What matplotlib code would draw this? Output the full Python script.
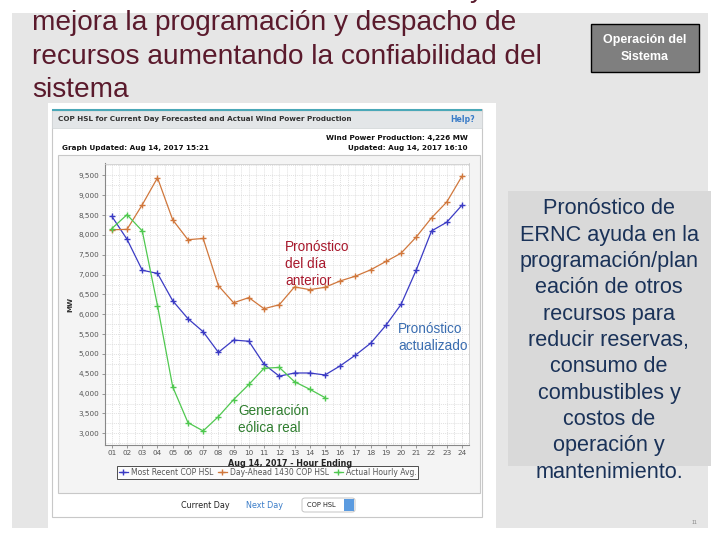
import matplotlib
matplotlib.use("Agg")
import matplotlib.pyplot as plt
from matplotlib.patches import Rectangle, FancyBboxPatch
from matplotlib.ticker import FuncFormatter, MultipleLocator
from matplotlib.lines import Line2D

# ---------------- data ----------------
hours = list(range(1, 25))
hour_labels = [f"{h:02d}" for h in hours]
most_recent = [8470, 7890, 7110, 7030, 6340, 5890, 5560, 5040, 5350, 5320, 4740, 4440,
               4520, 4520, 4470, 4700, 4970, 5270, 5720, 6250, 7120, 8100, 8320, 8750]
day_ahead = [8130, 8140, 8760, 9440, 8380, 7880, 7910, 6720, 6290, 6420, 6140, 6240,
             6690, 6620, 6680, 6840, 6960, 7120, 7330, 7540, 7950, 8430, 8830, 9480]
actual_hours = list(range(1, 16))
actual = [8160, 8510, 8100, 6220, 4170, 3270, 3060, 3420, 3850, 4230, 4640, 4660,
          4300, 4110, 3900]
ytick_vals = list(range(3000, 10000, 500))
series_names = ["Most Recent COP HSL", "Day-Ahead 1430 COP HSL", "Actual Hourly Avg."]

W, H = 720, 540
fig = plt.figure(figsize=(7.2, 5.4), dpi=100)
fig.patch.set_facecolor("white")

def fx(x):
    return x / W

def fy(y):
    return 1 - y / H

def rect(x0, y0, x1, y1, **kw):
    r = Rectangle((fx(x0), fy(y1)), fx(x1) - fx(x0), fy(y0) - fy(y1),
                  transform=fig.transFigure, **kw)
    fig.add_artist(r)
    return r

def txt(x, y, s, **kw):
    return fig.text(fx(x), fy(y), s, **kw)

SANS = ["Liberation Sans", "DejaVu Sans"]
UI = ["DejaVu Sans"]

# slide background
rect(12, 13, 708, 528, facecolor="#e6e6e6", edgecolor="none", zorder=0)
# screenshot area
rect(48, 103, 496, 540, facecolor="white", edgecolor="none", zorder=1)
rect(52, 109, 482, 517, facecolor="white", edgecolor="#c8c8c8", linewidth=0.8, zorder=1)
rect(52, 109, 482, 111, facecolor="#4aa8b8", edgecolor="none", zorder=2)
rect(52, 111, 482, 128, facecolor="#e3e6e8", edgecolor="#d0d4d6", linewidth=0.5, zorder=2)
rect(58, 155, 480, 493, facecolor="#f4f4f4", edgecolor="#c8c8c8", linewidth=0.8, zorder=1)

# title (dark maroon)
title_col = "#5a1a2c"
txt(470, -10, "y", fontsize=20.2, color=title_col, family=SANS, va="center", zorder=3)
for i, line in enumerate(["mejora la programación y despacho de",
                          "recursos aumentando la confiabilidad del",
                          "sistema"]):
    txt(32, 23 + i * 33.5, line, fontsize=20.2, color=title_col, family=SANS,
        va="center", ha="left", zorder=3)

# "Operación del Sistema" box
rect(591, 24, 699, 72, facecolor="#7f7f7f", edgecolor="black", linewidth=1.0, zorder=3)
txt(645, 39.5, "Operación del", fontsize=9, color="white", weight="bold",
    family=SANS, ha="center", va="center", zorder=4)
txt(645, 56.5, "Sistema", fontsize=9, color="white", weight="bold",
    family=SANS, ha="center", va="center", zorder=4)

# right text box
rect(508, 191, 711, 466, facecolor="#d9d9d9", edgecolor="none", zorder=2)
right_lines = ["Pronóstico de", "ERNC ayuda en la", "programación/plan",
               "eación de otros", "recursos para", "reducir reservas,",
               "consumo de", "combustibles y", "costos de", "operación y",
               "mantenimiento."]
for i, line in enumerate(right_lines):
    txt(609, 209 + i * 26.3, line, fontsize=15.6, color="#1a3258", family=SANS,
        ha="center", va="center", zorder=4)

txt(695, 522, "11", fontsize=4, color="#888888", family=SANS, ha="center", va="center")

# screenshot header texts
txt(58, 119.5, "COP HSL for Current Day Forecasted and Actual Wind Power Production",
    fontsize=5.2, weight="bold", color="#333333", family=UI, va="center", zorder=3)
txt(475, 119.5, "Help?", fontsize=5.6, weight="bold", color="#3a7cc8", family=UI,
    ha="right", va="center", zorder=3)
txt(62, 148, "Graph Updated: Aug 14, 2017 15:21", fontsize=5.2, weight="bold",
    color="#111111", family=UI, va="center", zorder=3)
txt(468, 138, "Wind Power Production: 4,226 MW", fontsize=5.2, weight="bold",
    color="#111111", family=UI, ha="right", va="center", zorder=3)
txt(468, 148, "Updated: Aug 14, 2017 16:10", fontsize=5.2, weight="bold",
    color="#111111", family=UI, ha="right", va="center", zorder=3)

# ---------------- chart ----------------
c_blue = "#3b3bc4"
c_orange = "#d0773c"
c_green = "#4fc84f"

ax = fig.add_axes([fx(104.5), fy(445), fx(469) - fx(104.5), fy(163.5) - fy(445)], zorder=5)
ax.set_facecolor("white")
ax.plot(hours, most_recent, color=c_blue, lw=0.9, marker="+", ms=4.5, mew=1.0)
ax.plot(hours, day_ahead, color=c_orange, lw=0.9, marker="+", ms=4.5, mew=1.0)
ax.plot(actual_hours, actual, color=c_green, lw=0.9, marker="+", ms=4.5, mew=1.0)

ax.set_xlim(0.52, 24.46)
ax.set_ylim(2705, 9800)
ax.set_xticks(hours)
ax.set_xticklabels(hour_labels)
ax.set_yticks(ytick_vals)
ax.yaxis.set_major_formatter(FuncFormatter(lambda v, p: f"{int(v):,}"))
ax.yaxis.set_minor_locator(MultipleLocator(250))
ax.xaxis.set_minor_locator(MultipleLocator(0.5))
ax.grid(which="both", color="#d6d6d6", lw=0.5, ls=(0, (1.5, 1.5)))
ax.set_axisbelow(True)
ax.tick_params(axis="both", which="major", labelsize=5.2, labelcolor="#555555",
               color="#888888", length=2, width=0.6, pad=1.8)
ax.tick_params(axis="both", which="minor", length=0)
for lab in ax.get_xticklabels() + ax.get_yticklabels():
    lab.set_family(UI)
for s in ["left", "bottom"]:
    ax.spines[s].set_color("#888888")
    ax.spines[s].set_linewidth(0.8)
for s in ["top", "right"]:
    ax.spines[s].set_color("#cccccc")
    ax.spines[s].set_linewidth(0.6)
ax.set_ylabel("MW", fontsize=5.2, weight="bold", color="#333333", family=UI, labelpad=4)

# annotations (one text per line)
def multiline(x, y0, lines, color, dy=17):
    for i, line in enumerate(lines):
        txt(x, y0 + i * dy, line, fontsize=9.8, color=color, family=SANS,
            va="center", ha="left", zorder=6)

multiline(285, 247, ["Pronóstico", "del día", "anterior"], "#a8182c")
multiline(398, 329, ["Pronóstico", "actualizado"], "#3a6db0")
multiline(238, 411, ["Generación", "eólica real"], "#2e7d2e")

# x label
txt(290, 464, "Aug 14, 2017 - Hour Ending", fontsize=5.8, weight="bold",
    color="#222222", family=UI, ha="center", va="center", zorder=6)

# legend
handles = [Line2D([], [], color=c, lw=0.9, marker="+", ms=4.5, mew=1.0)
           for c in (c_blue, c_orange, c_green)]
leg = fig.legend(handles, series_names, loc="center",
                 bbox_to_anchor=(fx(267.5), fy(472.5)), ncol=3,
                 frameon=True, fancybox=False, edgecolor="#222222",
                 handlelength=1.2, handletextpad=0.4, columnspacing=0.6,
                 borderpad=0.25, prop={"family": UI, "size": 5.5})
leg.get_frame().set_linewidth(0.7)
for t in leg.get_texts():
    t.set_color("#555555")

# bottom controls
txt(205, 505, "Current Day", fontsize=5.8, color="#222222", family=UI, ha="center",
    va="center", zorder=6)
txt(264, 505, "Next Day", fontsize=5.8, color="#3a7cc8", family=UI, ha="center",
    va="center", zorder=6)
box = FancyBboxPatch((fx(302), fy(512)), fx(355) - fx(302), fy(498) - fy(512),
                     boxstyle="round,pad=0,rounding_size=0.004",
                     transform=fig.transFigure, facecolor="white",
                     edgecolor="#bbbbbb", linewidth=0.6, zorder=6)
fig.add_artist(box)
txt(307, 505, "COP HSL", fontsize=4.8, color="#222222", family=UI, ha="left",
    va="center", zorder=7)
rect(344, 499, 354, 511, facecolor="#5b9be0", edgecolor="none", zorder=7)

fig.savefig("out.png", dpi=100, facecolor=fig.get_facecolor())
